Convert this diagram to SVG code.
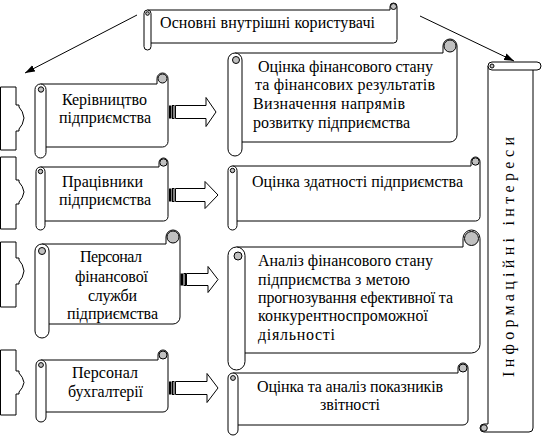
<svg xmlns="http://www.w3.org/2000/svg" width="543" height="438" viewBox="0 0 543 438">
<defs>
<marker id="ah" markerWidth="11" markerHeight="8" refX="10" refY="4" orient="auto" markerUnits="userSpaceOnUse"><path d="M0,0.5 L10,4 L0,7.5 Z" fill="#000"/></marker>
</defs>
<style>
.s{fill:#fff;stroke:#000;stroke-width:1}
.g{fill:#c0c0c0;stroke:#000;stroke-width:1}
.ln{stroke:#000;stroke-width:1;fill:none}
.bk{fill:#000;stroke:none}
text{font-family:"Times New Roman",Tinos,"Liberation Serif","DejaVu Serif",serif;font-size:16px;fill:#000}
</style>
<rect width="543" height="438" fill="#fff"/>

<g id="connectors">
<line class="ln" x1="137" y1="15" x2="25" y2="73" marker-end="url(#ah)"/>
<line class="ln" x1="420" y1="16" x2="514" y2="61" marker-end="url(#ah)"/>
<g id="arrow1">
<rect class="bk" x="169" y="105.5" width="2.5" height="13"/>
<rect class="s" x="172.5" y="105.5" width="1.5" height="13"/>
<path class="s" d="M175.5,105.5 L206,105.5 L206,97.5 L216,112 L206,126.5 L206,118.5 L175.5,118.5 Z"/>
</g>
<g id="arrow2">
<rect class="bk" x="169" y="188.5" width="2.5" height="13"/>
<rect class="s" x="172.5" y="188.5" width="1.5" height="13"/>
<path class="s" d="M175.5,188.5 L205,188.5 L205,181.5 L218,195 L205,208.5 L205,201.5 L175.5,201.5 Z"/>
</g>
<g id="arrow3">
<rect class="bk" x="180.5" y="273.5" width="2.5" height="12"/>
<rect class="s" x="184" y="273.5" width="1.5" height="12"/>
<path class="s" d="M186.5,273.5 L208,273.5 L208,266.5 L218,279.5 L208,292.5 L208,285.5 L186.5,285.5 Z"/>
</g>
<g id="arrow4">
<rect class="bk" x="169" y="381.5" width="2.5" height="13"/>
<rect class="s" x="172.5" y="381.5" width="1.5" height="13"/>
<path class="s" d="M175.5,381.5 L207,381.5 L207,373.5 L218,388 L207,402.5 L207,394.5 L175.5,394.5 Z"/>
</g>
</g>

<g id="n-top">
<path class="s" d="M147.5,10 L390,10 L390,6.5 A3.5,3.5 0 0 1 397,6.5 L397,39.5 A3.5,3.5 0 0 1 393.5,43 L147.5,43 Z"/>
<path class="s" d="M144,13.5 A3.5,3.5 0 0 1 151,13.5 L151,46.5 A3.5,3.5 0 0 1 144,46.5 Z"/>
<circle class="g" cx="393.5" cy="6.5" r="3"/>
<circle class="g" cx="147.5" cy="13.5" r="1.8"/>
<text x="160" y="28" textLength="215" lengthAdjust="spacing">Основні внутрішні користувачі</text>
</g>

<g id="b1"><path class="s" d="M0.5,87 L16,87 L16,105 L19,105 L19,107 Q23,111 24,118 Q23,125 19,129 L19,131 L16,131 L16,150 L0.5,150 Z"/></g>
<g id="b2"><path class="s" d="M0.5,157 L16,157 L16,180 L19,180 L19,182 Q23,186 24,192 Q23,198 19,202 L19,204 L16,204 L16,229 L0.5,229 Z"/></g>
<g id="b3"><path class="s" d="M0.5,242 L16,242 L16,258 L19,258 L19,260 Q23,264 24,271 Q23,278 19,282 L19,284 L16,284 L16,307 L0.5,307 Z"/></g>
<g id="b4"><path class="s" d="M0.5,350 L16,350 L16,371 L19,371 L19,373 Q23,377 24,382.5 Q23,388 19,392 L19,394 L16,394 L16,415 L0.5,415 Z"/></g>

<g id="n-l1">
<path class="s" d="M40.5,84 L157,84 L157,78.5 A5.5,5.5 0 0 1 168,78.5 L168,141.5 A5.5,5.5 0 0 1 162.5,147 L40.5,147 Z"/>
<path class="s" d="M35,89.5 A5.5,5.5 0 0 1 46,89.5 L46,152.5 A5.5,5.5 0 0 1 35,152.5 Z"/>
<circle class="g" cx="162.5" cy="78.5" r="4.5"/>
<circle class="g" cx="41" cy="89.5" r="2.7"/>
<text x="62" y="105" textLength="85" lengthAdjust="spacing">Керівництво</text>
<text x="59" y="123" textLength="92" lengthAdjust="spacing">підприємства</text>
</g>

<g id="n-l2">
<path class="s" d="M40.5,167 L159,167 L159,162.5 A4.5,4.5 0 0 1 168,162.5 L168,216.5 A4.5,4.5 0 0 1 163.5,221 L40.5,221 Z"/>
<path class="s" d="M36,171.5 A4.5,4.5 0 0 1 45,171.5 L45,225.5 A4.5,4.5 0 0 1 36,225.5 Z"/>
<circle class="g" cx="163.5" cy="162.5" r="3.7"/>
<circle class="g" cx="40.5" cy="171.5" r="2.2"/>
<text x="62" y="187" textLength="81" lengthAdjust="spacing">Працівники</text>
<text x="59" y="205" textLength="92" lengthAdjust="spacing">підприємства</text>
</g>

<g id="n-l3">
<path class="s" d="M42,244 L166,244 L166,237 A7,7 0 0 1 180,237 L180,317 A7,7 0 0 1 173,324 L42,324 Z"/>
<path class="s" d="M35,251 A7,7 0 0 1 49,251 L49,331 A7,7 0 0 1 35,331 Z"/>
<circle class="g" cx="173" cy="237" r="6"/>
<circle class="g" cx="42" cy="251" r="3.5"/>
<text x="80" y="262" textLength="62" lengthAdjust="spacing">Персонал</text>
<text x="75" y="282" textLength="73" lengthAdjust="spacing">фінансової</text>
<text x="88" y="301" textLength="49" lengthAdjust="spacing">служби</text>
<text x="67" y="319" textLength="91" lengthAdjust="spacing">підприємства</text>
</g>

<g id="n-l4">
<path class="s" d="M41,360 L158,360 L158,355 A5,5 0 0 1 168,355 L168,407 A5,5 0 0 1 163,412 L41,412 Z"/>
<path class="s" d="M36,365 A5,5 0 0 1 46,365 L46,417 A5,5 0 0 1 36,417 Z"/>
<circle class="g" cx="163" cy="355" r="4"/>
<circle class="g" cx="41" cy="365" r="2.4"/>
<text x="72" y="378" textLength="66" lengthAdjust="spacing">Персонал</text>
<text x="68" y="397" textLength="75" lengthAdjust="spacing">бухгалтерії</text>
</g>

<g id="n-r1">
<path class="s" d="M235,53 L443,53 L443,46 A7,7 0 0 1 457,46 L457,135 A7,7 0 0 1 450,142 L235,142 Z"/>
<path class="s" d="M228,60 A7,7 0 0 1 242,60 L242,149 A7,7 0 0 1 228,149 Z"/>
<circle class="g" cx="450" cy="46" r="6"/>
<circle class="g" cx="236" cy="60" r="3.5"/>
<text x="258" y="72" textLength="175" lengthAdjust="spacing">Оцінка фінансового стану</text>
<text x="255" y="90" textLength="180" lengthAdjust="spacing">та фінансових результатів</text>
<text x="253" y="109" textLength="152" lengthAdjust="spacing">Визначення напрямів</text>
<text x="253" y="128" textLength="157" lengthAdjust="spacing">розвитку підприємства</text>
</g>

<g id="n-r2">
<path class="s" d="M232.5,166 L471,166 L471,161.5 A4.5,4.5 0 0 1 480,161.5 L480,216.5 A4.5,4.5 0 0 1 475.5,221 L232.5,221 Z"/>
<path class="s" d="M228,170.5 A4.5,4.5 0 0 1 237,170.5 L237,225.5 A4.5,4.5 0 0 1 228,225.5 Z"/>
<circle class="g" cx="475.5" cy="161.5" r="3.7"/>
<circle class="g" cx="232.5" cy="170.5" r="2.2"/>
<text x="252" y="187" textLength="211" lengthAdjust="spacing">Оцінка здатності підприємства</text>
</g>

<g id="n-r3">
<path class="s" d="M236.5,247 L463,247 L463,238.5 A8.5,8.5 0 0 1 480,238.5 L480,344.5 A8.5,8.5 0 0 1 471.5,353 L236.5,353 Z"/>
<path class="s" d="M228,255.5 A8.5,8.5 0 0 1 245,255.5 L245,361.5 A8.5,8.5 0 0 1 228,361.5 Z"/>
<circle class="g" cx="471.5" cy="238.5" r="7"/>
<circle class="g" cx="238" cy="256" r="4"/>
<text x="258" y="266" textLength="175" lengthAdjust="spacing">Аналіз фінансового стану</text>
<text x="258" y="285" textLength="152" lengthAdjust="spacing">підприємства з метою</text>
<text x="258" y="303" textLength="195" lengthAdjust="spacing">прогнозування ефективної та</text>
<text x="258" y="321" textLength="170" lengthAdjust="spacing">конкурентноспроможної</text>
<text x="258" y="340" textLength="77" lengthAdjust="spacing">діяльності</text>
</g>

<g id="n-r4">
<path class="s" d="M233,373 L458,373 L458,368 A5,5 0 0 1 468,368 L468,420 A5,5 0 0 1 463,425 L233,425 Z"/>
<path class="s" d="M228,378 A5,5 0 0 1 238,378 L238,430 A5,5 0 0 1 228,430 Z"/>
<circle class="g" cx="463" cy="368" r="4"/>
<circle class="g" cx="233" cy="378" r="2.4"/>
<text x="257" y="392" textLength="186" lengthAdjust="spacing">Оцінка та аналіз показників</text>
<text x="320" y="410" textLength="60" lengthAdjust="spacing">звітності</text>
</g>

<g id="n-info">
<g transform="matrix(0 1 1 0 0 0)">
<path class="s" d="M66,488 L424,488 L424,484 A4,4 0 0 1 432,484 L432,529 A4,4 0 0 1 428,533 L66,533 Z"/>
<path class="s" d="M62,492 A4,4 0 0 1 70,492 L70,537 A4,4 0 0 1 62,537 Z"/>
<circle class="g" cx="428" cy="484" r="3.3"/>
<circle class="g" cx="66" cy="492" r="2"/>
</g>
<text transform="translate(514,257) rotate(-90)" x="0" y="0" text-anchor="middle" textLength="240" lengthAdjust="spacing">Інформаційні інтереси</text>
</g>
</svg>
